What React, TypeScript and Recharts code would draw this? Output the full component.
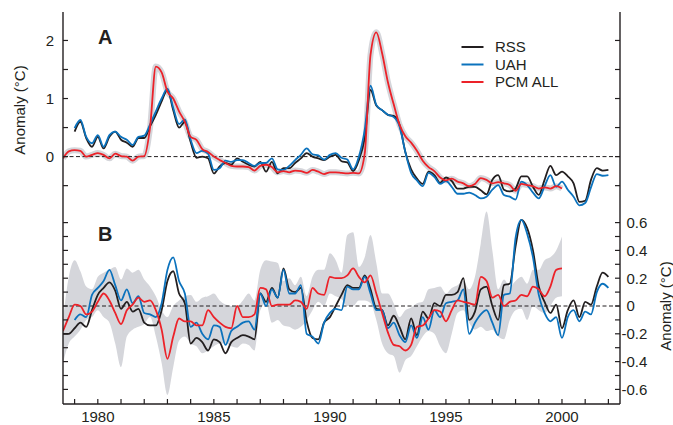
import React from 'react';
import { ComposedChart, Line, Area, XAxis, YAxis, ReferenceLine } from 'recharts';

// quarterly grid, first point 1978.5
const START = 1978.5;
const STEP = 0.25;

// Panel A: anomalies (°C)
const rssA = [
  null, null, 0.43, 0.6, 0.32, 0.17, 0.34, 0.14, 0.34, 0.43,
  0.29, 0.24, 0.17, 0.32, 0.32, 0.52, 0.72, 0.95, 1.15, 0.8,
  0.5, 0.6, 0.25, -0.02, 0, -0.03, -0.29, -0.17, -0.11, -0.14,
  -0.03, -0.09, -0.14, -0.17, -0.09, -0.26, -0.09, -0.29, -0.2, -0.2,
  -0.11, -0.03, 0.06, 0, -0.03, -0.06, 0, 0.03, -0.08, -0.1,
  -0.25, -0.06, 0.32, 1.15, 0.88, 0.8, 0.72, 0.7, 0.55, 0.08,
  -0.22, -0.38, -0.47, -0.26, -0.32, -0.45, -0.36, -0.42, -0.55, -0.55,
  -0.52, -0.52, -0.58, -0.65, -0.4, -0.32, -0.57, -0.6, -0.55, -0.34,
  -0.34, -0.52, -0.66, -0.4, -0.16, -0.32, -0.26, -0.34, -0.46, -0.78,
  -0.76, -0.4, -0.2, -0.24, -0.23,
];
const uahA = [
  null, null, 0.49, 0.63, 0.34, 0.23, 0.37, 0.17, 0.37, 0.43,
  0.34, 0.29, 0.2, 0.34, 0.36, 0.55, 0.78, 1.0, 1.17, 0.84,
  0.56, 0.64, 0.29, 0.06, 0.1, 0.05, -0.23, -0.2, -0.07, -0.09,
  -0.06, -0.06, -0.11, -0.16, -0.11, -0.11, -0.03, -0.22, -0.23, -0.16,
  -0.06, 0.03, 0.14, 0.04, 0.02, -0.05, 0.03, 0.06, -0.02, -0.05,
  -0.22, 0, 0.46, 1.22, 0.89, 0.8, 0.72, 0.68, 0.52, 0.08,
  -0.28, -0.41, -0.51, -0.28, -0.35, -0.47, -0.42, -0.52, -0.64, -0.64,
  -0.62, -0.66, -0.72, -0.69, -0.57, -0.49, -0.66, -0.69, -0.74, -0.43,
  -0.49, -0.62, -0.72, -0.51, -0.32, -0.52, -0.43, -0.57, -0.69, -0.84,
  -0.8, -0.53, -0.3, -0.33, -0.32,
];
const pcmA = [
  -0.03, 0.09, 0.11, 0.1, 0, 0.03, 0.06, 0.03, -0.03, 0.05,
  0.01, 0, -0.07, 0, 0.01, 0.5, 1.55, 1.45, 1.12, 1.0,
  0.78, 0.6, 0.34, 0.29, 0.13, 0.08, 0, -0.06, -0.11, -0.16,
  -0.17, -0.17, -0.18, -0.24, -0.16, -0.14, -0.18, -0.27, -0.25, -0.27,
  -0.24, -0.25, -0.28, -0.23, -0.26, -0.3, -0.27, -0.27, -0.28, -0.29,
  -0.28, -0.29, 0.05, 1.75, 2.14, 1.78, 1.28, 0.9, 0.55, 0.35,
  0.24, 0.1, -0.07, -0.18, -0.25, -0.36, -0.41, -0.38, -0.43, -0.46,
  -0.51, -0.47, -0.37, -0.4, -0.46, -0.44, -0.46, -0.49, -0.59, -0.47,
  -0.49, -0.51, -0.55, -0.53, -0.55, -0.51, -0.55, null, null, null,
  null, null, null, null, null,
];

// Panel B
const rssB = [
  -0.2, -0.2, -0.16, -0.12, -0.15, -0.03, 0.08, 0.13, 0.17, 0.11,
  -0.02, 0.03, -0.04, -0.02, -0.12, -0.14, -0.14, -0.03, 0.18, 0.25,
  0.09, 0.02, -0.27, -0.23, -0.26, -0.32, -0.24, -0.26, -0.34, -0.26,
  -0.23, -0.21, -0.22, -0.24, 0.09, 0.03, 0.13, 0.06, 0.27, 0.12,
  0.1, 0.13, -0.11, -0.23, -0.24, -0.12, -0.08, 0, 0.08, 0.15,
  0.13, 0.13, 0.22, 0.12, -0.02, -0.03, -0.14, -0.07, -0.15, -0.24,
  -0.09, -0.21, -0.04, -0.09, 0.02, 0, 0.08, 0.08, 0.1, 0.2,
  -0.1, -0.04, 0.12, 0.14, 0, -0.1, 0.15, 0.16, 0.43, 0.62,
  0.56, 0.4, 0.14, 0.03, -0.05, 0.01, -0.16, -0.03, 0.04, -0.08,
  0.03, 0.01, 0.14, 0.24, 0.21,
];
const uahB = [
  null, null, -0.1, -0.06, -0.08, 0.08, 0.13, 0.18, 0.26, 0.15,
  0.04, 0.12, 0.02, 0.07, -0.05, -0.06, -0.08, 0.02, 0.26, 0.35,
  0.18, 0.09, -0.15, -0.12, -0.2, -0.24, -0.14, -0.15, -0.28, -0.18,
  -0.15, -0.12, -0.11, -0.17, 0.09, 0, 0.12, 0.06, 0.26, 0.09,
  0.09, 0.15, -0.2, -0.22, -0.27, -0.12, -0.05, -0.02, -0.03, 0.14,
  0.12, 0.12, 0.21, 0.09, -0.03, -0.03, -0.16, -0.12, -0.21, -0.26,
  -0.14, -0.23, -0.08, -0.17, -0.03, -0.08, 0.02, 0.03, 0.04, 0.12,
  -0.2, -0.12, -0.06, -0.03, -0.12, -0.21, 0.08, 0.09, 0.49, 0.62,
  0.52, 0.35, 0.08, -0.05, -0.11, -0.08, -0.23, -0.08, -0.03, -0.11,
  -0.04, -0.06, 0.1, 0.16, 0.13,
];
const pcmB = [
  -0.18, -0.08, 0.01, 0, -0.06, -0.04, 0.03, 0.09, 0.04, -0.05,
  -0.13, -0.03, 0.01, 0.06, 0.03, 0.04, -0.03, -0.17, -0.38, -0.22,
  -0.09, -0.11, -0.11, -0.14, -0.14, -0.03, -0.08, -0.12, -0.15, -0.16,
  0, -0.08, -0.08, -0.06, 0.13, 0.12, 0, 0.01, 0.01, 0.01,
  0.04, 0.03, -0.02, 0.13, 0.09, 0.08, 0.21, 0.2, 0.2, 0.22,
  0.27, 0.21, 0.17, 0.22, 0.09, -0.05, -0.19, -0.28, -0.29, -0.32,
  -0.28, -0.15, -0.14, -0.09, -0.03, -0.04, -0.11, -0.03, 0.04, 0.03,
  0.02, 0.01, 0.21, 0.18, 0.06, 0.08, 0, 0.03, 0.04, 0.08,
  0.07, 0.14, 0.12, 0.07, 0.14, 0.26, 0.27, null, null, null,
  null, null, null, null, null,
];
// PCM ensemble range (grey band)
const bandHiB = [
  -0.1, 0.21, 0.33, 0.25, 0.14, 0.12, 0.21, 0.24, 0.26, 0.28,
  0.19, 0.27, 0.24, 0.26, 0.19, 0.14, 0.07, -0.03, -0.08, 0,
  0.04, 0.07, 0.08, 0.03, 0.06, 0.07, 0.09, 0.04, 0.01, 0,
  0, 0.04, 0.09, 0.04, 0.26, 0.33, 0.32, 0.31, 0.18, 0.2,
  0.15, 0.21, 0.07, 0.21, 0.26, 0.26, 0.38, 0.33, 0.24, 0.51,
  0.53, 0.28, 0.35, 0.51, 0.31, 0.09, 0.09, 0.02, -0.08, -0.03,
  -0.01, 0.02, 0.03, 0.12, 0.13, 0.14, 0.09, 0.13, 0.15, 0.18,
  0.12, 0.21, 0.45, 0.68, 0.4, 0.12, 0.19, 0.14, 0.18, 0.21,
  0.16, 0.26, 0.26, 0.33, 0.35, 0.4, 0.5, null, null, null,
  null, null, null, null, null,
];
const bandLoB = [
  -0.41, -0.27, -0.22, -0.17, -0.1, -0.08, -0.03, -0.08, -0.12, -0.27,
  -0.44, -0.22, -0.17, -0.15, -0.13, -0.08, -0.22, -0.41, -0.64, -0.44,
  -0.25, -0.22, -0.27, -0.29, -0.34, -0.32, -0.29, -0.27, -0.27, -0.29,
  -0.3, -0.27, -0.28, -0.32, -0.03, 0.02, -0.12, -0.1, -0.14, -0.15,
  -0.17, -0.15, -0.1, -0.03, 0.03, 0, 0.09, 0.07, 0.05, 0,
  0, 0.04, 0.04, 0.02, -0.1, -0.27, -0.34, -0.36, -0.48, -0.39,
  -0.36, -0.29, -0.22, -0.18, -0.2, -0.29, -0.34, -0.2, -0.05, -0.03,
  -0.12, -0.17, -0.15, -0.18, -0.17, -0.22, -0.24, -0.1, -0.03, -0.02,
  -0.1, 0, -0.03, -0.05, 0, 0.06, 0.07, null, null, null,
  null, null, null, null, null,
];

const yearTicks = [1979, 1980, 1981, 1982, 1983, 1984, 1985, 1986, 1987, 1988, 1989, 1990,
  1991, 1992, 1993, 1994, 1995, 1996, 1997, 1998, 1999, 2000, 2001, 2002];
const yearLabels = [1980, 1985, 1990, 1995, 2000];
const aTicks = [-0.5, 0, 0.5, 1, 1.5, 2];
const aLabels = [0, 1, 2];
const bTicks = [-0.6, -0.5, -0.4, -0.3, -0.2, -0.1, 0, 0.1, 0.2, 0.3, 0.4, 0.5, 0.6];
const bLabels = [-0.6, -0.4, -0.2, 0, 0.2, 0.4, 0.6];
const legendItems = ['RSS', 'UAH', 'PCM ALL'];

const FONT = '"Liberation Sans", Arial, Helvetica, sans-serif';
const INK = '#231f20';
const RSS_C = '#231f20';
const UAH_C = '#0b72bd';
const PCM_C = '#ec2229';
const BAND = '#d5d6db';
const TL = 5;
const legendColors = [RSS_C, UAH_C, PCM_C];

const has = (list, v) => list.some((l) => Math.abs(l - v) < 1e-6);

const xTick = (side, labels) => (props) => {
  const { x, y, payload } = props;
  const dir = side === 'bottom' ? -1 : 1;
  return (
    <g>
      <line x1={x} y1={y} x2={x} y2={y + dir * TL} stroke={INK} strokeWidth={1.2} />
      {has(labels, payload.value) && (
        <text x={x} y={y + 17.5} textAnchor="middle" fontSize={15} fontFamily={FONT} fill={INK}>
          {payload.value}
        </text>
      )}
    </g>
  );
};

const yTick = (side, labels) => (props) => {
  const { x, y, payload } = props;
  const v = payload.value;
  const dir = side === 'left' ? 1 : -1;
  let label = null;
  if (has(labels, v)) {
    const txt = Math.abs(v) < 1e-6 ? '0' : String(Math.round(v * 10) / 10);
    label = side === 'left'
      ? <text x={x - 9} y={y} dy="0.36em" textAnchor="end" fontSize={15} fontFamily={FONT} fill={INK}>{txt}</text>
      : <text x={x + (v < -1e-6 ? 1.5 : 6.5)} y={y} dy="0.36em" textAnchor="start" fontSize={15} fontFamily={FONT} fill={INK}>{txt}</text>;
  }
  return (
    <g>
      <line x1={x} y1={y} x2={x + dir * TL} y2={y} stroke={INK} strokeWidth={1.2} />
      {label}
    </g>
  );
};

const axisLine = { stroke: INK, strokeWidth: 1.4 };

export default function App() {
  const years = rssA.map((_, i) => START + i * STEP);
  const dataA = years.map((year, i) => ({ year, rss: rssA[i], uah: uahA[i], pcm: pcmA[i] }));
  const dataB = years.map((year, i) => ({
    year,
    rss: rssB[i],
    uah: uahB[i],
    pcm: pcmB[i],
    band: bandHiB[i] == null ? null : [bandLoB[i], bandHiB[i]],
  }));

  const xCommon = {
    dataKey: 'year',
    type: 'number' as const,
    domain: [1978.5, 2002.5],
    allowDataOverflow: true,
    ticks: yearTicks,
    interval: 0,
    tickSize: 0,
    tickMargin: 0,
    tickLine: false,
    axisLine,
  };

  return (
    <div style={{ position: 'absolute', left: 0, top: 0, width: 673, height: 425, background: '#fff' }}>
      <div style={{ position: 'absolute', left: 0, top: 0 }}>
        <ComposedChart width={673} height={210} data={dataA} margin={{ top: 12, right: 0, bottom: 2, left: 0 }}>
          <XAxis xAxisId="b" orientation="bottom" height={0} tick={xTick('bottom', [])} {...xCommon} />
          <XAxis xAxisId="t" orientation="top" height={0} tick={xTick('top', [])} {...xCommon} />
          <YAxis
            yAxisId="l"
            type="number"
            domain={[-0.885, 2.49]}
            allowDataOverflow
            ticks={aTicks}
            interval={0}
            width={63}
            tickSize={0}
            tickMargin={0}
            tickLine={false}
            axisLine={axisLine}
            tick={yTick('left', aLabels)}
            label={{ value: 'Anomaly (°C)', angle: -90, position: 'center', dx: -11.5, fontSize: 15, fontFamily: FONT, fill: INK }}
          />
          <YAxis
            yAxisId="r"
            orientation="right"
            type="number"
            domain={[-0.885, 2.49]}
            allowDataOverflow
            ticks={aTicks}
            interval={0}
            width={53}
            tickSize={0}
            tickMargin={0}
            tickLine={false}
            axisLine={axisLine}
            tick={yTick('right', [])}
          />
          <Line xAxisId="b" yAxisId="l" dataKey="pcm" stroke={BAND} strokeWidth={6} dot={false} activeDot={false} type="monotone" isAnimationActive={false} />
          <ReferenceLine xAxisId="b" yAxisId="l" y={0} stroke={INK} strokeWidth={1} strokeDasharray="4 2.5" />
          <Line xAxisId="b" yAxisId="l" dataKey="rss" stroke={RSS_C} strokeWidth={1.8} dot={false} type="monotone" isAnimationActive={false} />
          <Line xAxisId="b" yAxisId="l" dataKey="uah" stroke={UAH_C} strokeWidth={1.8} dot={false} type="monotone" isAnimationActive={false} />
          <Line xAxisId="b" yAxisId="l" dataKey="pcm" stroke={PCM_C} strokeWidth={1.8} dot={false} type="monotone" isAnimationActive={false} />
        </ComposedChart>
      </div>

      <div style={{ position: 'absolute', left: 0, top: 200 }}>
        <ComposedChart width={673} height={225} data={dataB} margin={{ top: 8, right: 0, bottom: 0, left: 0 }}>
          <XAxis xAxisId="b" orientation="bottom" height={21} tick={xTick('bottom', yearLabels)} {...xCommon} />
          <XAxis xAxisId="t" orientation="top" height={0} tick={xTick('top', [])} {...xCommon} />
          <YAxis
            yAxisId="l"
            type="number"
            domain={[-0.705, 0.705]}
            allowDataOverflow
            ticks={bTicks}
            interval={0}
            width={63}
            tickSize={0}
            tickMargin={0}
            tickLine={false}
            axisLine={axisLine}
            tick={yTick('left', [])}
          />
          <YAxis
            yAxisId="r"
            orientation="right"
            type="number"
            domain={[-0.705, 0.705]}
            allowDataOverflow
            ticks={bTicks}
            interval={0}
            width={53}
            tickSize={0}
            tickMargin={0}
            tickLine={false}
            axisLine={axisLine}
            tick={yTick('right', bLabels)}
            label={{ value: 'Anomaly (°C)', angle: -90, position: 'center', dx: 19.5, fontSize: 15, fontFamily: FONT, fill: INK }}
          />
          <Area xAxisId="b" yAxisId="l" dataKey="band" stroke="none" fill={BAND} fillOpacity={1} type="monotone" isAnimationActive={false} activeDot={false} />
          <ReferenceLine xAxisId="b" yAxisId="l" y={0} stroke={INK} strokeWidth={1} strokeDasharray="4 2.5" />
          <Line xAxisId="b" yAxisId="l" dataKey="rss" stroke={RSS_C} strokeWidth={1.8} dot={false} type="monotone" isAnimationActive={false} />
          <Line xAxisId="b" yAxisId="l" dataKey="uah" stroke={UAH_C} strokeWidth={1.8} dot={false} type="monotone" isAnimationActive={false} />
          <Line xAxisId="b" yAxisId="l" dataKey="pcm" stroke={PCM_C} strokeWidth={1.8} dot={false} type="monotone" isAnimationActive={false} />
        </ComposedChart>
      </div>

      {/* panel letters and legend */}
      <svg width={673} height={425} style={{ position: 'absolute', left: 0, top: 0, pointerEvents: 'none' }}>
        <text x={98} y={43.5} fontSize={20} fontWeight="bold" fontFamily={FONT} fill={INK}>A</text>
        <text x={98} y={240.5} fontSize={20} fontWeight="bold" fontFamily={FONT} fill={INK}>B</text>
        {legendItems.map((name, i) => (
          <g key={name}>
            <line x1={461.5} x2={483.5} y1={47 + i * 17.5} y2={47 + i * 17.5} stroke={legendColors[i]} strokeWidth={2} />
            <text x={495} y={47 + i * 17.5} dy="0.36em" fontSize={15} fontFamily={FONT} fill={INK}>{name}</text>
          </g>
        ))}
      </svg>
    </div>
  );
}
